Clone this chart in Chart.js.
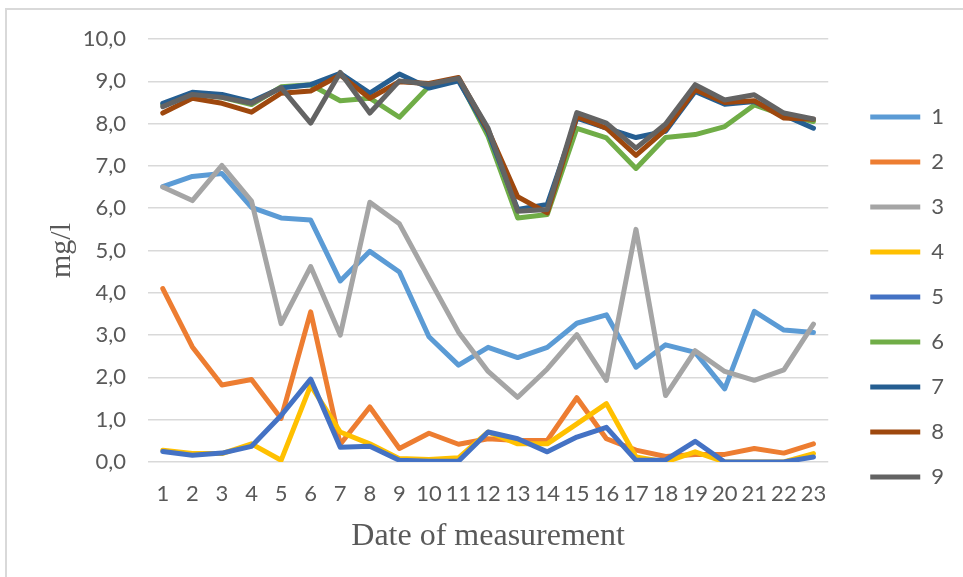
<!DOCTYPE html>
<html>
<head>
<meta charset="utf-8">
<script src="https://cdn.jsdelivr.net/npm/chart.js@4/dist/chart.umd.min.js"></script>
<style>
    html, body { margin: 0; padding: 0; background: #fff; }
    #frame {
        position: absolute; left: 5px; top: 8px;
        width: 1000px; height: 600px;
        border: 2px solid #d9d9d9;
    }
    #wrap { position: absolute; left: 0; top: 0; width: 963px; height: 577px; }
</style>
</head>
<body>
<div id="frame"></div>
<div id="wrap"><canvas id="chart"></canvas></div>
<script>
// categories (date of measurement)
const dates = ["1", "2", "3", "4", "5", "6", "7", "8", "9", "10", "11", "12",
    "13", "14", "15", "16", "17", "18", "19", "20", "21", "22", "23"];

const yTickLabels = ["0,0", "1,0", "2,0", "3,0", "4,0", "5,0", "6,0", "7,0", "8,0", "9,0", "10,0"];

const seriesNames = ["1", "2", "3", "4", "5", "6", "7", "8", "9"];
const seriesColors = ["#5B9BD5", "#ED7D31", "#A5A5A5", "#FFC000", "#4472C4",
    "#70AD47", "#255E91", "#9E480E", "#636363"];

// values in mg/l
const s1 = [6.51, 6.75, 6.82, 6.02, 5.77, 5.72, 4.28, 4.98, 4.49, 2.96, 2.29, 2.71,
    2.47, 2.71, 3.28, 3.48, 2.24, 2.77, 2.59, 1.73, 3.56, 3.12, 3.06];
const s2 = [4.10, 2.72, 1.82, 1.95, 1.03, 3.55, 0.42, 1.30, 0.32, 0.68, 0.42, 0.55,
    0.51, 0.51, 1.52, 0.55, 0.28, 0.13, 0.18, 0.18, 0.32, 0.21, 0.43];
const s3 = [6.50, 6.18, 7.01, 6.17, 3.27, 4.62, 3.00, 6.14, 5.63, 4.34, 3.07, 2.14,
    1.53, 2.20, 3.01, 1.93, 5.50, 1.57, 2.63, 2.14, 1.93, 2.18, 3.26];
const s4 = [0.28, 0.20, 0.20, 0.43, 0.04, 1.81, 0.71, 0.43, 0.08, 0.06, 0.10, 0.71,
    0.43, 0.43, 0.90, 1.38, 0.12, 0.00, 0.24, 0.00, 0.00, 0.00, 0.20];
const s5 = [0.25, 0.16, 0.21, 0.37, 1.10, 1.96, 0.35, 0.37, 0.04, 0.02, 0.02, 0.71,
    0.55, 0.24, 0.59, 0.82, 0.04, 0.05, 0.49, 0.00, 0.00, 0.00, 0.12];
const s6 = [8.45, 8.70, 8.62, 8.45, 8.87, 8.92, 8.54, 8.60, 8.15, 8.88, 9.05, 7.70,
    5.77, 5.85, 7.89, 7.66, 6.94, 7.67, 7.74, 7.93, 8.44, 8.20, 8.05];
const s7 = [8.48, 8.74, 8.69, 8.52, 8.84, 8.92, 9.19, 8.72, 9.17, 8.84, 9.01, 7.80,
    5.97, 6.09, 8.13, 7.89, 7.67, 7.82, 8.76, 8.46, 8.52, 8.20, 7.89];
const s8 = [8.25, 8.60, 8.48, 8.27, 8.72, 8.77, 9.15, 8.60, 8.99, 8.95, 9.09, 7.85,
    6.27, 5.89, 8.17, 7.89, 7.25, 7.86, 8.80, 8.50, 8.54, 8.13, 8.10];
const s9 = [8.40, 8.69, 8.62, 8.48, 8.85, 8.01, 9.21, 8.25, 9.01, 8.93, 9.07, 7.89,
    5.93, 5.97, 8.26, 8.01, 7.42, 7.99, 8.92, 8.56, 8.68, 8.25, 8.11];

const allSeries = [s1, s2, s3, s4, s5, s6, s7, s8, s9];

const tickColor = "#595959";
const gridColor = "#d9d9d9";
const tickFont = { family: "Lato", size: 22 };

const datasets = allSeries.map((vals, i) => ({
    label: seriesNames[i],
    data: vals,
    borderColor: seriesColors[i],
    backgroundColor: seriesColors[i],
    borderWidth: 5,
    borderCapStyle: "round",
    borderJoinStyle: "round",
    pointRadius: 0,
    tension: 0,
    order: allSeries.length - i   // last series drawn on top, as in Excel
}));

new Chart(document.getElementById("chart"), {
    type: "line",
    data: { labels: dates, datasets },
    options: {
        responsive: true,
        maintainAspectRatio: false,
        animation: false,
        layout: { padding: { top: 17, right: 9, bottom: 0, left: 0 } },
        plugins: {
            title: { display: true, text: " ", font: { size: 20, lineHeight: 1.1 }, padding: 0 },
            tooltip: { enabled: false },
            legend: {
                position: "right",
                labels: {
                    usePointStyle: true,
                    pointStyle: "line",
                    pointStyleWidth: 50,
                    padding: 23,
                    color: tickColor,
                    font: tickFont,
                    sort: (a, b) => a.datasetIndex - b.datasetIndex
                }
            }
        },
        scales: {
            x: {
                offset: true,
                grid: { display: false, drawTicks: false },
                border: { display: false },
                ticks: {
                    color: tickColor,
                    font: tickFont,
                    padding: 19,
                    autoSkip: false,
                    maxRotation: 0
                },
                title: {
                    display: true,
                    text: "Date of measurement",
                    color: tickColor,
                    font: { family: "Liberation Serif", size: 32 },
                    padding: { top: 0, bottom: 21 }
                },
                afterFit: (s) => { s.height = 115; }
            },
            y: {
                min: 0,
                max: 10,
                grid: { color: gridColor, lineWidth: 1.5, drawTicks: false },
                border: { display: false },
                ticks: {
                    stepSize: 1,
                    color: tickColor,
                    font: tickFont,
                    padding: 22,
                    callback: (v, i) => yTickLabels[i]
                },
                title: {
                    display: true,
                    text: "mg/l",
                    color: tickColor,
                    font: { family: "Liberation Serif", size: 30 },
                    padding: { top: 44, bottom: 0 }
                },
                afterFit: (s) => { s.width = 148; }
            },
            // empty spacer between plot and legend
            gap: {
                type: "linear",
                position: "right",
                display: true,
                grid: { display: false },
                border: { display: false },
                ticks: { display: false },
                afterFit: (s) => { s.width = 19; }
            }
        }
    }
});
</script>
</body>
</html>
